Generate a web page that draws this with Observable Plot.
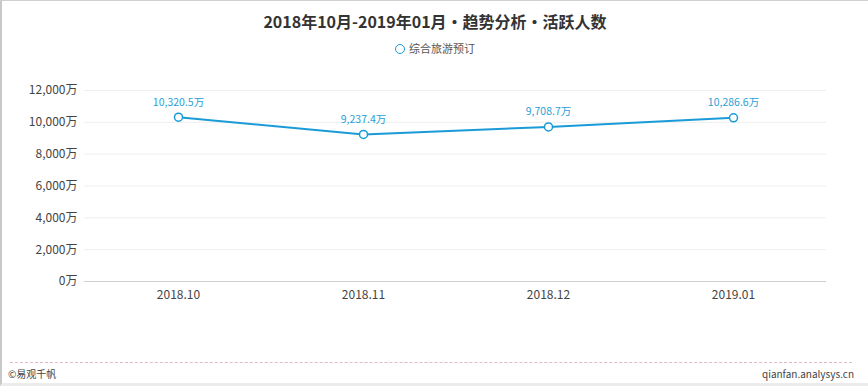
<!DOCTYPE html>
<html><head><meta charset="utf-8">
<script src="https://cdn.jsdelivr.net/npm/d3@7"></script>
<script src="https://cdn.jsdelivr.net/npm/@observablehq/plot@0.6"></script>
<style>
body{margin:0;background:#fff;font-family:"Noto Sans CJK SC","Noto Sans",sans-serif;}
#wrap{position:relative;width:866px;height:382px;border-left:2px solid #c8c8c8;border-top:1px solid #d0d0d0;border-bottom:3px solid #ececec;overflow:hidden;}
#title{position:absolute;left:0;width:866px;top:8px;text-align:center;font-size:16px;font-weight:bold;color:#333;}
#legend{position:absolute;left:0;width:866px;top:39px;text-align:center;font-size:11px;color:#555;}
#legend span.c{display:inline-block;width:8px;height:8px;border:1.5px solid #1a9bd7;border-radius:50%;vertical-align:-1px;margin-right:4px;}
#chart{position:absolute;left:-2px;top:61px;}
#dash{position:absolute;left:8px;width:842px;top:361px;border-top:1px dashed #e3b9c6;}
#fl{position:absolute;left:6px;top:365px;font-size:10px;color:#444;}
#fr{position:absolute;right:14px;top:365px;font-size:10px;color:#444;}
</style></head>
<body>
<div id="wrap">
<div id="title">2018年10月-2019年01月•趋势分析•活跃人数</div>
<div id="legend"><span class="c"></span>综合旅游预订</div>
<div id="chart"></div>
<div id="dash"></div>
<div id="fl">©易观千帆</div>
<div id="fr">qianfan.analysys.cn</div>
</div>
<script>
const months = ["2018.10","2018.11","2018.12","2019.01"];
const values = [10320.5, 9237.4, 9708.7, 10286.6];
const yTicks = [0,2000,4000,6000,8000,10000,12000];
const seriesName = "综合旅游预订";

const data = months.map((m,i)=>({month:m, value:values[i], series:seriesName}));
const fmt = d3.format(",");
const color = "#1a9bd7";

const chart = Plot.plot({
  width: 868,
  height: 248,
  marginLeft: 84,
  marginRight: 42,
  marginTop: 28,
  marginBottom: 29,
  style: {fontFamily: '"Noto Sans CJK SC","Noto Sans",sans-serif', fontSize: "12px", color: "#444", background: "transparent"},
  x: {type: "point", domain: months, padding: 0.5, label: null},
  y: {domain: [0, 12000], label: null},
  marks: [
    Plot.gridY(yTicks.filter(d=>d>0), {stroke: "#eeeeee", strokeOpacity: 1}),
    Plot.ruleY([0], {stroke: "#d0d0d0"}),
    Plot.axisY({ticks: yTicks, tickSize: 0, tickPadding: 7, tickFormat: d => fmt(d) + "万", fontSize: 12, fill: "#444"}),
    Plot.axisX({tickSize: 0, tickPadding: 9, fontSize: 12, fill: "#444"}),
    Plot.line(data, {x: "month", y: "value", stroke: color, strokeWidth: 2}),
    Plot.dot(data, {x: "month", y: "value", r: 4, fill: "white", stroke: color, strokeWidth: 1.5}),
    Plot.text(data, {x: "month", y: "value", text: d => fmt(d.value) + "万", dy: -15, fill: "#2a9fd6", fontSize: 10.5})
  ]
});
document.getElementById("chart").appendChild(chart);
</script>
</body></html>
